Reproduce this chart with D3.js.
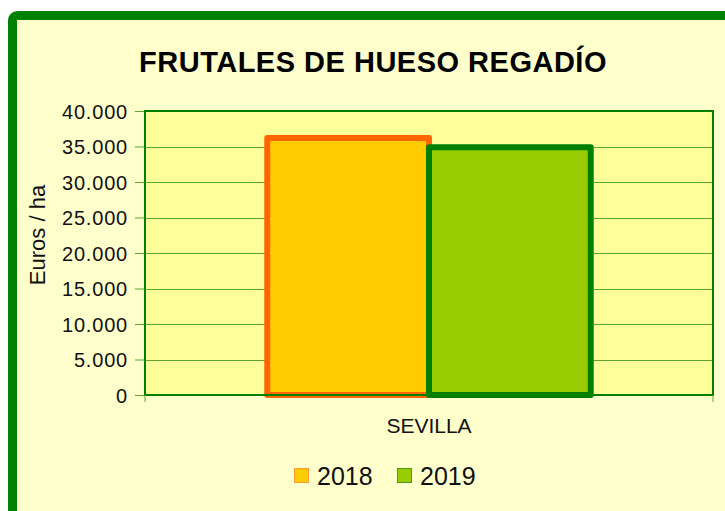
<!DOCTYPE html>
<html>
<head>
  <meta charset="utf-8">
  <script src="https://cdnjs.cloudflare.com/ajax/libs/d3/7.8.5/d3.min.js"></script>
  <style>
    body { margin: 0; padding: 0; background: #fff; }
    svg { display: block; font-family: "Liberation Sans", Arial, sans-serif; }
  </style>
</head>
<body>
<svg width="725" height="511"></svg>
<script>
  // chart data
  const categories = ["SEVILLA"];
  const seriesNames = ["2018", "2019"];
  const seriesValues = [[36200], [34900]];
  const yTicks = [0, 5000, 10000, 15000, 20000, 25000, 30000, 35000, 40000];
  const fills = ["#FFCC00", "#99CC00"];
  const strokes = ["#FF6600", "#008000"];

  const svg = d3.select("svg");

  // outer frame
  svg.append("rect")
    .attr("x", 12.5).attr("y", 15.5)
    .attr("width", 780).attr("height", 560)
    .attr("rx", 5)
    .attr("fill", "#FFFFCC")
    .attr("stroke", "#008000")
    .attr("stroke-width", 9);

  const margin = { top: 111, left: 145, right: 12, bottom: 116 };
  const width = 725 - margin.left - margin.right,
    height = 511 - margin.top - margin.bottom;

  const g = svg.append("g").attr("transform", "translate(" + margin.left + "," + margin.top + ")");

  const y = d3.scaleLinear().domain([0, 40000]).range([height, 0]);
  const x0 = d3.scaleBand().domain(categories).range([0, width]).paddingInner(0).paddingOuter(0.378);
  const x1 = d3.scaleBand().domain(seriesNames).range([0, x0.bandwidth()]).padding(0);

  // plot background
  g.append("rect")
    .attr("width", width).attr("height", height)
    .attr("fill", "#FFFF99");

  // gridlines
  g.append("g")
    .selectAll("line")
    .data(yTicks.slice(1))
    .enter().append("line")
    .attr("x1", 0).attr("x2", width)
    .attr("y1", d => Math.round(y(d)) + 0.5)
    .attr("y2", d => Math.round(y(d)) + 0.5)
    .attr("stroke", "#5aa832")
    .attr("stroke-width", 1);

  // y axis
  const fmt = d3.formatLocale({ decimal: ",", thousands: ".", grouping: [3], currency: ["", "€"] }).format(",d");
  const yAxis = g.append("g")
    .call(d3.axisLeft(y).tickValues(yTicks).tickFormat(fmt).tickSize(10).tickPadding(7));
  yAxis.select(".domain").remove();
  yAxis.selectAll(".tick line").attr("stroke", "#5aa832");
  yAxis.selectAll(".tick text")
    .attr("font-size", 20)
    .attr("letter-spacing", 0.8)
    .attr("fill", "#111")
    .attr("dy", "0.36em")
    .attr("font-family", "Liberation Sans, Arial, sans-serif");

  // bars
  const bars = g.append("g");
  seriesNames.forEach((s, i) => {
    bars.selectAll(".bar" + i)
      .data(categories)
      .enter().append("rect")
      .attr("x", c => x0(c) + x1(s))
      .attr("width", x1.bandwidth())
      .attr("y", (c, j) => y(seriesValues[i][j]))
      .attr("height", (c, j) => height - y(seriesValues[i][j]))
      .attr("fill", fills[i])
      .attr("stroke", strokes[i])
      .attr("stroke-width", 6)
      .attr("stroke-linejoin", "round");
  });

  // plot border
  g.append("rect")
    .attr("width", width).attr("height", height)
    .attr("fill", "none")
    .attr("stroke", "#008000")
    .attr("stroke-width", 2);

  // x axis ticks and labels
  g.append("g").selectAll("line")
    .data([0, width])
    .enter().append("line")
    .attr("x1", d => d).attr("x2", d => d)
    .attr("y1", height).attr("y2", height + 7)
    .attr("stroke", "#5aa832");

  g.selectAll(".cat")
    .data(categories)
    .enter().append("text")
    .attr("x", c => x0(c) + x0.bandwidth() / 2)
    .attr("y", height + 38)
    .attr("text-anchor", "middle")
    .attr("font-size", 21)
    .attr("fill", "#111")
    .text(c => c);

  // title
  svg.append("text")
    .attr("x", 373).attr("y", 72)
    .attr("text-anchor", "middle")
    .attr("font-size", 29)
    .attr("letter-spacing", 0.5)
    .attr("font-weight", "bold")
    .attr("fill", "#000")
    .text("FRUTALES DE HUESO REGADÍO");

  // y label
  svg.append("text")
    .attr("transform", "translate(45,235) rotate(-90)")
    .attr("text-anchor", "middle")
    .attr("font-size", 22)
    .attr("fill", "#111")
    .text("Euros / ha");

  // legend
  const legend = svg.append("g").attr("transform", "translate(294,468)");
  const item = legend.selectAll("g")
    .data(seriesNames)
    .enter().append("g")
    .attr("transform", (d, i) => "translate(" + i * 103 + ",0)");
  item.append("rect")
    .attr("x", 0.5).attr("y", 0.5)
    .attr("width", 14).attr("height", 14)
    .attr("fill", (d, i) => fills[i])
    .attr("stroke", (d, i) => i === 0 ? "#FF9933" : "#4a9a20");
  item.append("text")
    .attr("x", 23).attr("y", 17)
    .attr("font-size", 25)
    .attr("fill", "#111")
    .text(d => d);
</script>
</body>
</html>
